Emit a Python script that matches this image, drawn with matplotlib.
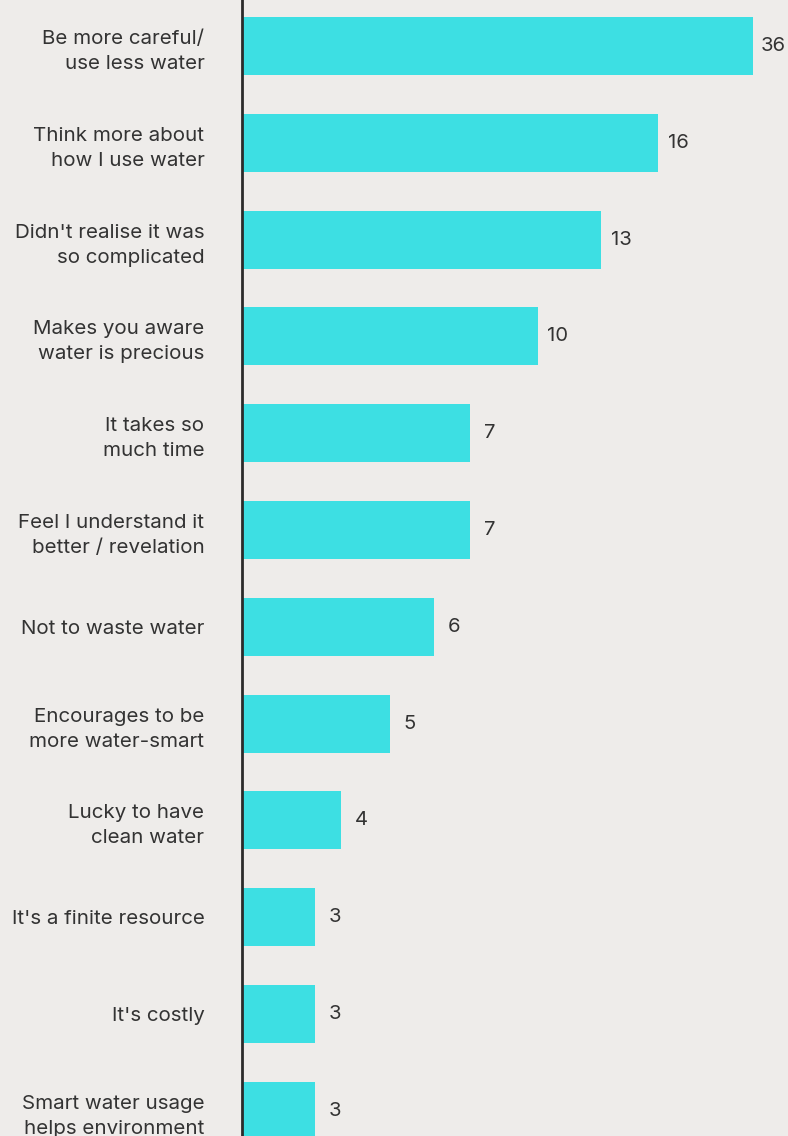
import numpy as np
import matplotlib
matplotlib.use('Agg')
import matplotlib.pyplot as plt

# survey answers, top to bottom
labels = [
    'Be more careful/\nuse less water',
    'Think more about\nhow I use water',
    "Didn't realise it was\nso complicated",
    'Makes you aware\nwater is precious',
    'It takes so\nmuch time',
    'Feel I understand it\nbetter / revelation',
    'Not to waste water',
    'Encourages to be\nmore water-smart',
    'Lucky to have\nclean water',
    "It's a finite resource",
    "It's costly",
    'Smart water usage\nhelps environment',
]
counts = [36, 16, 13, 10, 7, 7, 6, 5, 4, 3, 3, 3]

# bar lengths follow a stretched (non-linear) axis
knot_vals = np.array([0, 3, 4, 5, 6, 7, 10, 13, 16, 36], dtype=float)
knot_len = np.array([0, 73, 99, 148, 192, 228, 296, 359, 416, 511], dtype=float)


def forward(v):
    return np.interp(v, knot_vals, knot_len)


def inverse(w):
    return np.interp(w, knot_len, knot_vals)


BG = '#eeecea'
BAR = '#3ddfe3'
INK = '#333333'

plt.rcParams['font.family'] = ['Inter', 'DejaVu Sans']

fig = plt.figure(figsize=(7.88, 11.36), dpi=100, facecolor=BG)
ax = fig.add_axes([242 / 788, 0, 511 / 788, 1])
ax.set_facecolor(BG)
ax.set_xscale('function', functions=(forward, inverse))

y = np.arange(len(labels))
ax.barh(y, counts, height=0.6, color=BAR, left=0)
ax.set_xlim(0, 36)
ax.set_ylim(11.26, -0.475)

for yi, c in zip(y, counts):
    ax.annotate(str(c), (c, yi), xytext=(20, 0), textcoords='offset pixels',
                ha='center', va='center', fontsize=14.6, color=INK)

ax.set_yticks(y)
ax.set_yticklabels(labels, fontsize=14.8, color=INK, linespacing=1.5)
ax.tick_params(axis='y', length=0, pad=27)
ax.set_xticks([])
ax.xaxis.set_minor_locator(matplotlib.ticker.NullLocator())

for side in ['top', 'right', 'bottom']:
    ax.spines[side].set_visible(False)
ax.spines['left'].set_color('#2b2b2b')
ax.spines['left'].set_linewidth(2)

fig.savefig('out.png', dpi=100, facecolor=BG)
plt.close(fig)
